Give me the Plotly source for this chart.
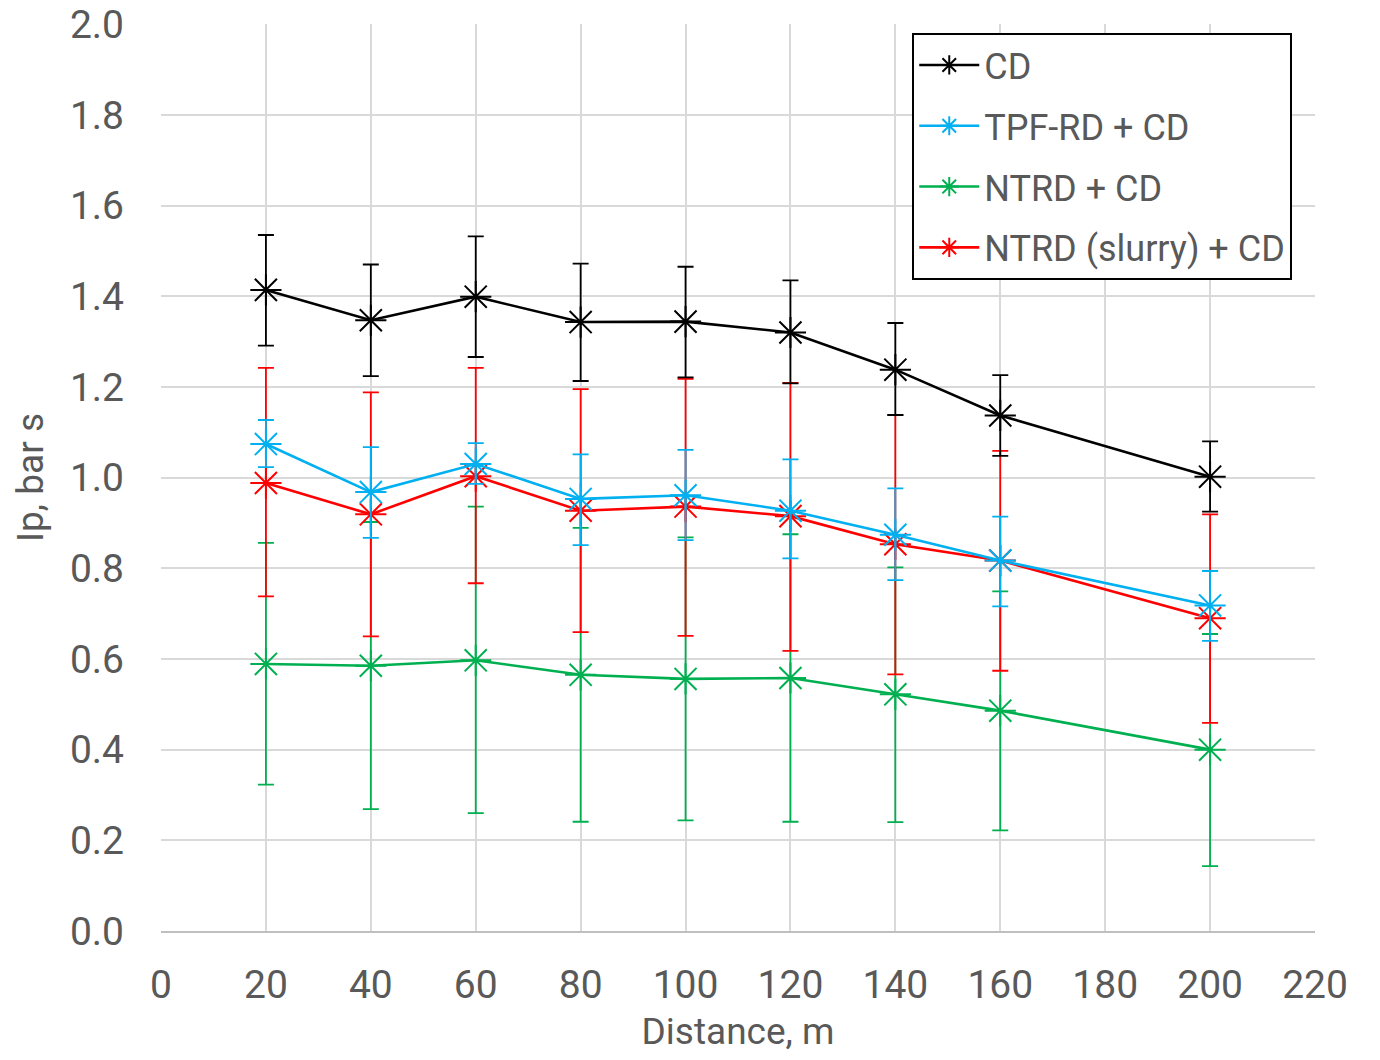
import plotly.graph_objects as go

distance = [20, 40, 60, 80, 100, 120, 140, 160, 200]

series_names = ["CD", "TPF-RD + CD", "NTRD + CD", "NTRD (slurry) + CD"]
colors = ["#000000", "#00B0F0", "#00B050", "#FF0000"]

cd_mean = [1.414, 1.347, 1.399, 1.343, 1.344, 1.320, 1.238, 1.137, 1.002]
cd_hi = [1.535, 1.470, 1.532, 1.472, 1.465, 1.435, 1.341, 1.226, 1.080]
cd_lo = [1.291, 1.224, 1.266, 1.213, 1.221, 1.208, 1.138, 1.048, 0.925]

tpf_mean = [1.074, 0.968, 1.030, 0.953, 0.961, 0.927, 0.874, 0.817, 0.718]
tpf_hi = [1.127, 1.067, 1.076, 1.051, 1.061, 1.040, 0.976, 0.914, 0.794]
tpf_lo = [1.023, 0.867, 0.986, 0.851, 0.862, 0.822, 0.774, 0.716, 0.640]

ntrd_mean = [0.589, 0.585, 0.597, 0.565, 0.556, 0.558, 0.522, 0.486, 0.400]
ntrd_hi = [0.856, 0.902, 0.936, 0.889, 0.868, 0.875, 0.802, 0.749, 0.655]
ntrd_lo = [0.323, 0.269, 0.260, 0.241, 0.244, 0.241, 0.240, 0.222, 0.143]

slurry_mean = [0.988, 0.919, 1.003, 0.927, 0.936, 0.915, 0.853, 0.817, 0.690]
slurry_hi = [1.242, 1.188, 1.242, 1.195, 1.218, 1.209, 1.138, 1.059, 0.919]
slurry_lo = [0.738, 0.650, 0.767, 0.659, 0.651, 0.618, 0.566, 0.574, 0.459]

x_ticks = [0, 20, 40, 60, 80, 100, 120, 140, 160, 180, 200, 220]
y_ticks = [0.0, 0.2, 0.4, 0.6, 0.8, 1.0, 1.2, 1.4, 1.6, 1.8, 2.0]

data = [
    (cd_mean, cd_hi, cd_lo),
    (tpf_mean, tpf_hi, tpf_lo),
    (ntrd_mean, ntrd_hi, ntrd_lo),
    (slurry_mean, slurry_hi, slurry_lo),
]

fig = go.Figure()
draw_order = [2, 3, 1, 0]
for i in draw_order:
    mean, hi, lo = data[i]
    plus = [h - m for h, m in zip(hi, mean)]
    minus = [m - l for m, l in zip(mean, lo)]
    fig.add_trace(go.Scatter(
        x=distance, y=mean, name=series_names[i],
        mode="lines+markers",
        line=dict(color=colors[i], width=2.6),
        marker=dict(symbol="asterisk-open", size=26,
                    line=dict(color=colors[i], width=2)),
        error_y=dict(type="data", symmetric=False, array=plus, arrayminus=minus,
                     color=colors[i], thickness=1.8, width=8),
        legendgroup=series_names[i],
        legendrank=i + 1,
    ))

font_family = "Roboto, 'Noto Sans', sans-serif"
fig.update_layout(
    width=1380, height=1060,
    margin=dict(l=161, r=65, t=24, b=129),
    paper_bgcolor="white", plot_bgcolor="white",
    font=dict(family=font_family, color="#595959", size=36),
    showlegend=True,
    legend=dict(
        x=0.651, y=0.99, xanchor="left", yanchor="top",
        bgcolor="white", bordercolor="#000000", borderwidth=2,
        font=dict(size=36, color="#595959"),
        tracegroupgap=11,
        traceorder="grouped",
        itemwidth=60,
    ),
    xaxis=dict(
        range=[0, 220], tickvals=x_ticks, ticktext=[str(v) for v in x_ticks],
        showgrid=True, gridcolor="#D9D9D9", gridwidth=1.5,
        zeroline=False, showline=True, linecolor="#BFBFBF", linewidth=1.5,
        ticks="", ticklen=0, ticklabelstandoff=18, ticklabeloverflow="allow",
        automargin=False,
        title=dict(text="Distance, m", font=dict(size=37, color="#595959"), standoff=12),
        tickfont=dict(size=39),
    ),
    yaxis=dict(
        range=[0, 2.0004], tickvals=y_ticks, ticktext=[f"{v:.1f}" for v in y_ticks],
        showgrid=True, gridcolor="#D9D9D9", gridwidth=1.5,
        zeroline=False, showline=False,
        ticks="", ticklen=0, ticklabelstandoff=36, ticklabeloverflow="allow",
        automargin=False,
        title=dict(text="Ip, bar s", font=dict(size=37, color="#595959"), standoff=14),
        tickfont=dict(size=39),
    ),
)

fig.write_html("out.html", config={"displayModeBar": False},
               post_script='document.body.style.margin="0";')
